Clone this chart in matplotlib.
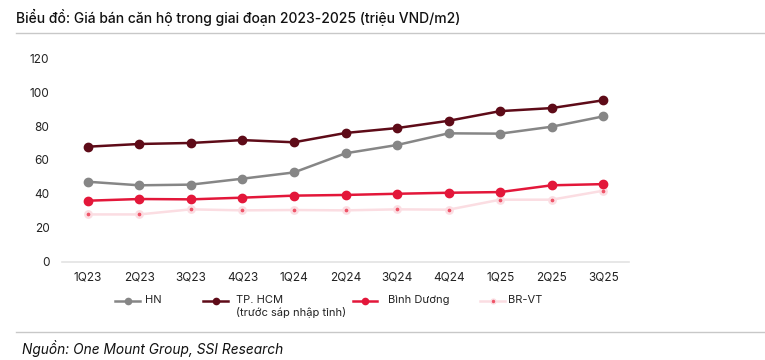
import matplotlib.pyplot as plt
from matplotlib.lines import Line2D

plt.rcParams['font.family'] = ['Inter', 'DejaVu Sans']

quarters = ['1Q23', '2Q23', '3Q23', '4Q23', '1Q24', '2Q24', '3Q24', '4Q24', '1Q25', '2Q25', '3Q25']
hn = [47.1, 45.0, 45.4, 48.9, 52.6, 63.9, 68.8, 75.7, 75.5, 79.6, 85.7]
hcm = [67.8, 69.4, 70.0, 71.7, 70.4, 75.9, 78.8, 83.1, 88.8, 90.6, 95.2]
binh_duong = [35.9, 36.9, 36.7, 37.7, 38.9, 39.3, 40.0, 40.6, 41.0, 45.0, 45.7]
br_vt = [27.8, 27.8, 30.8, 30.2, 30.4, 30.2, 30.8, 30.6, 36.5, 36.5, 41.8]

c_hn = '#868686'
c_hcm = '#5e0b18'
c_bd = '#e3173a'
c_brvt_line = '#fbdde2'
c_brvt_dot = '#ef5468'

fig = plt.figure(figsize=(7.65, 3.6), dpi=100)
ax = fig.add_axes([62 / 765, (360 - 261.5) / 360, (629 - 62) / 765, 203.2 / 360])

x = range(len(quarters))
ax.plot(x, br_vt, color=c_brvt_line, lw=1.8, marker='o', ms=4.5,
        mfc=c_brvt_dot, mec=c_brvt_line, mew=1.8, zorder=2)
ax.plot(x, binh_duong, color=c_bd, lw=1.8, marker='o', ms=6, zorder=3)
ax.plot(x, hn, color=c_hn, lw=1.8, marker='o', ms=6, zorder=3)
ax.plot(x, hcm, color=c_hcm, lw=1.8, marker='o', ms=6, zorder=4)

ax.set_xlim(-0.5, len(quarters) - 0.5)
ax.set_ylim(0, 120)
ax.set_yticks(range(0, 121, 20))
ax.set_xticks(list(x))
ax.set_xticklabels(quarters)
for s in ['top', 'right', 'left']:
    ax.spines[s].set_visible(False)
ax.spines['bottom'].set_color('#e3e3e3')
ax.spines['bottom'].set_linewidth(1.2)
ax.tick_params(axis='both', length=0, labelsize=8.5, colors='#222222')
ax.tick_params(axis='y', pad=9)
ax.tick_params(axis='x', pad=7)

# title, rules and source
fig.text(16 / 765, 1 - 17 / 360, 'Biểu đồ: Giá bán căn hộ trong giai đoạn 2023-2025 (triệu VND/m2)',
         fontsize=10, fontweight='medium', va='center', ha='left', color='#111111')
fig.add_artist(Line2D([16 / 765, 1], [1 - 33 / 360] * 2, color='#c8c8c8', lw=1))
fig.add_artist(Line2D([16 / 765, 1], [1 - 332 / 360] * 2, color='#c8c8c8', lw=1))
fig.text(22 / 765, 1 - 349 / 360, 'Nguồn: One Mount Group, SSI Research',
         fontsize=9.9, style='italic', va='center', ha='left', color='#111111')

# legend drawn by hand to match the spacing
ly = 1 - 301 / 360
entries = [
    (115, 140, 145, 'HN', dict(color=c_hn, ms=5.5, mfc=c_hn, mec=c_hn, mew=0)),
    (203, 228, 236, 'TP. HCM\n(trước sáp nhập tỉnh)', dict(color=c_hcm, ms=5.5, mfc=c_hcm, mec=c_hcm, mew=0)),
    (353, 377, 388, 'Bình Dương', dict(color=c_bd, ms=5.5, mfc=c_bd, mec=c_bd, mew=0)),
    (480, 505, 508, 'BR-VT', dict(color=c_brvt_line, ms=3.5, mfc=c_brvt_dot, mec=c_brvt_line, mew=1)),
]
for x0, x1, tx, label, st in entries:
    fig.add_artist(Line2D([x0 / 765, x1 / 765], [ly, ly], lw=1.8, color=st['color']))
    fig.add_artist(Line2D([(x0 + x1) / 2 / 765], [ly], marker='o', ms=st['ms'],
                          mfc=st['mfc'], mec=st['mec'], mew=st['mew'], lw=0))
    fig.text(tx / 765, ly + 0.018, label, fontsize=8, va='top', ha='left',
             color='#222222', linespacing=1.3)

fig.savefig('out.png', dpi=100)
